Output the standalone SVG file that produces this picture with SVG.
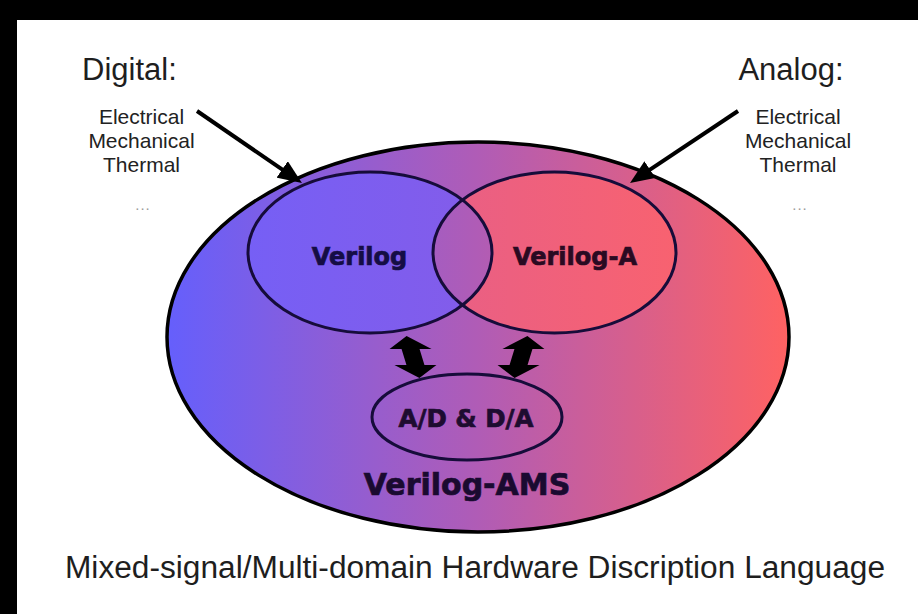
<svg xmlns="http://www.w3.org/2000/svg" width="918" height="614" viewBox="0 0 918 614">
  <defs>
    <linearGradient id="amsFill" gradientUnits="userSpaceOnUse" x1="167" y1="0" x2="789" y2="0">
      <stop offset="0" stop-color="#655ffc"/>
      <stop offset="0.5" stop-color="#b05cb6"/>
      <stop offset="1" stop-color="#ff6262"/>
    </linearGradient>
    <linearGradient id="digitalFill" gradientUnits="userSpaceOnUse" x1="248" y1="0" x2="492" y2="0">
      <stop offset="0" stop-color="#765ff5"/>
      <stop offset="1" stop-color="#845ce9"/>
    </linearGradient>
    <linearGradient id="analogFill" gradientUnits="userSpaceOnUse" x1="433" y1="0" x2="676" y2="0">
      <stop offset="0" stop-color="#e85f86"/>
      <stop offset="1" stop-color="#f86270"/>
    </linearGradient>
    <clipPath id="digitalClip">
      <ellipse cx="370" cy="252.5" rx="122" ry="80.5"/>
    </clipPath>
    <marker id="head" markerUnits="userSpaceOnUse" markerWidth="24" markerHeight="20" refX="18" refY="10" orient="auto">
      <path d="M0,0 L24,10 L0,20 z" fill="#000"/>
    </marker>
    <path id="dbl" d="M0,-21 L21,-8 L9,-8 L9,8 L21,8 L0,21 L-21,8 L-9,8 L-9,-8 L-21,-8 z"/>
  </defs>
  <style>
    .heading { font-family: "Liberation Sans", Arial, sans-serif; font-size: 31px; fill: #1e1e1e; }
    .domain { font-family: "Liberation Sans", Arial, sans-serif; font-size: 21px; fill: #222222; text-anchor: middle; }
    .more { font-family: "Liberation Sans", Arial, sans-serif; font-size: 15px; fill: #9a9a9a; text-anchor: middle; letter-spacing: 1px; }
    .lang { font-family: "DejaVu Sans", Verdana, sans-serif; font-weight: bold; text-anchor: middle; stroke-width: 0.7; }
    .ring { fill: none; stroke: #160c3a; stroke-width: 3; }
    .caption { font-family: "Liberation Sans", Arial, sans-serif; font-size: 31px; fill: #1e1e1e; text-anchor: middle; }
  </style>

  <!-- page: white sheet with black frame edge on top and left -->
  <rect x="0" y="0" width="918" height="614" fill="#ffffff"/>
  <rect x="0" y="0" width="918" height="20" fill="#000"/>
  <rect x="0" y="0" width="17" height="614" fill="#000"/>

  <!-- outer language: Verilog-AMS -->
  <g id="verilog-ams">
    <ellipse cx="478" cy="337" rx="311" ry="195" fill="url(#amsFill)" stroke="#000" stroke-width="3.5"/>
  </g>

  <!-- digital subset -->
  <g id="verilog">
    <ellipse cx="370" cy="252.5" rx="122" ry="80.5" fill="url(#digitalFill)"/>
  </g>

  <!-- analog subset, with the shared lens in the outer colour -->
  <g id="verilog-a">
    <ellipse cx="554.5" cy="252.5" rx="121.5" ry="80.5" fill="url(#analogFill)"/>
    <ellipse cx="554.5" cy="252.5" rx="121.5" ry="80.5" fill="url(#amsFill)" clip-path="url(#digitalClip)"/>
    <ellipse class="ring" cx="370" cy="252.5" rx="122" ry="80.5"/>
    <ellipse class="ring" cx="554.5" cy="252.5" rx="121.5" ry="80.5"/>
    <text class="lang" x="359.5" y="265" font-size="24" fill="#150d45" stroke="#150d45">Verilog</text>
    <text class="lang" x="575" y="265" font-size="24" fill="#2a0a22" stroke="#2a0a22">Verilog-A</text>
  </g>

  <!-- converters -->
  <g id="adda">
    <ellipse class="ring" cx="467" cy="417" rx="95" ry="43"/>
    <text class="lang" x="466" y="427" font-size="24" fill="#1e0c30" stroke="#1e0c30" textLength="135" lengthAdjust="spacingAndGlyphs">A/D &amp; D/A</text>
  </g>

  <g id="ams-label">
    <text class="lang" x="467" y="495" font-size="30" fill="#1a0a30" stroke="#1a0a30">Verilog-AMS</text>
  </g>

  <!-- domain lists -->
  <g id="digital">
    <text class="heading" x="82" y="80">Digital:</text>
    <text class="domain" x="141.5" y="124">Electrical</text>
    <text class="domain" x="141.5" y="148">Mechanical</text>
    <text class="domain" x="141.5" y="172">Thermal</text>
    <text class="more" x="143" y="210">...</text>
  </g>
  <g id="analog">
    <text class="heading" x="791" y="80" text-anchor="middle">Analog:</text>
    <text class="domain" x="798" y="124">Electrical</text>
    <text class="domain" x="798" y="148">Mechanical</text>
    <text class="domain" x="798" y="172">Thermal</text>
    <text class="more" x="800" y="210">...</text>
  </g>

  <!-- connectors -->
  <g id="connectors">
    <line x1="197" y1="111" x2="297" y2="179.6" stroke="#000" stroke-width="4" marker-end="url(#head)"/>
    <line x1="738" y1="111" x2="635" y2="179.6" stroke="#000" stroke-width="4" marker-end="url(#head)"/>
    <use href="#dbl" transform="translate(413,357) skewX(17)" fill="#000"/>
    <use href="#dbl" transform="translate(521,357) skewX(-17)" fill="#000"/>
  </g>

  <g id="caption">
    <text class="caption" x="475" y="578" textLength="820" lengthAdjust="spacingAndGlyphs">Mixed-signal/Multi-domain Hardware Discription Language</text>
  </g>
</svg>
